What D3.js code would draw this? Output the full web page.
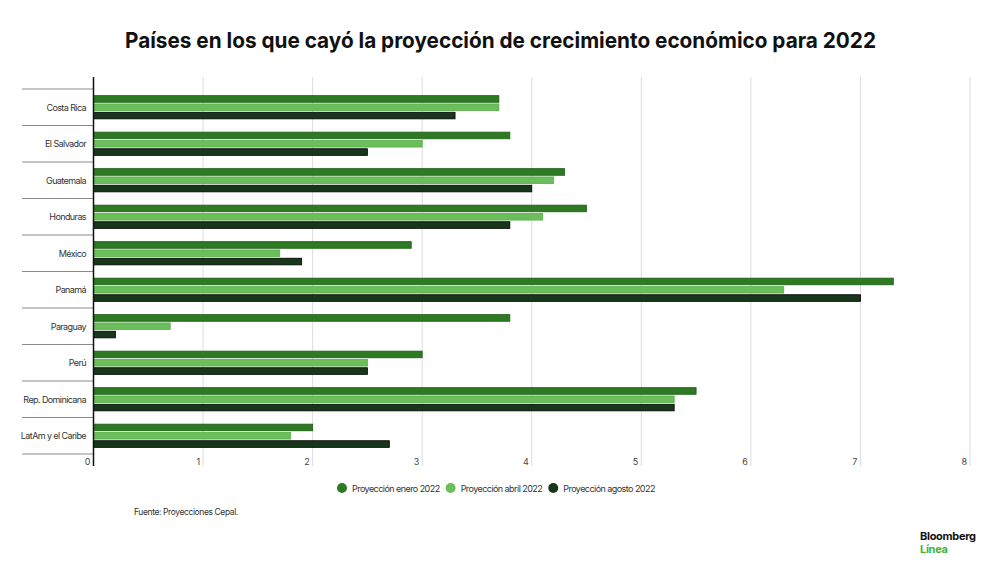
<!DOCTYPE html>
<html>
<head>
<meta charset="utf-8">
<script src="https://cdn.jsdelivr.net/npm/d3@7"></script>
<style>
    body { margin: 0; background: #fff; }
    svg { font-family: Inter, "Liberation Sans", sans-serif; }
</style>
</head>
<body>
<div id="chart-area"></div>
<script>
/*
*    Países en los que cayó la proyección de crecimiento
*/

const categories = ["Costa Rica", "El Salvador", "Guatemala", "Honduras", "México",
    "Panamá", "Paraguay", "Perú", "Rep. Dominicana", "LatAm y el Caribe"];
const seriesNames = ["Proyección enero 2022", "Proyección abril 2022", "Proyección agosto 2022"];
const enero  = [3.7, 3.8, 4.3, 4.5, 2.9, 7.3, 3.8, 3.0, 5.5, 2.0];
const abril  = [3.7, 3.0, 4.2, 4.1, 1.7, 6.3, 0.7, 2.5, 5.3, 1.8];
const agosto = [3.3, 2.5, 4.0, 3.8, 1.9, 7.0, 0.2, 2.5, 5.3, 2.7];
const xTicks = [0, 1, 2, 3, 4, 5, 6, 7, 8];

const colors = ["#2d7a22", "#6abf5a", "#17361a"];
const strokes = ["#1f5c18", "#5aad4b", "#000"];

const width = 1000;
const height = 562;

const svg = d3.select("#chart-area").append("svg")
    .attr("width", width)
    .attr("height", height);

// title
svg.append("text")
    .attr("x", 125)
    .attr("y", 48)
    .attr("textLength", 751)
    .attr("lengthAdjust", "spacingAndGlyphs")
    .attr("font-size", 22)
    .attr("font-weight", 700)
    .attr("fill", "#111")
    .text("Países en los que cayó la proyección de crecimiento económico para 2022");

const x = d3.scaleLinear()
    .domain([0, 8])
    .range([93.5, 970]);

const y0 = d3.scaleBand()
    .domain(categories)
    .range([89, 454]);

const y1 = d3.scaleBand()
    .domain(seriesNames)
    .range([0, y0.bandwidth()])
    .paddingInner(0.2)
    .paddingOuter(0.8);

// grid
svg.append("g")
    .selectAll("line")
    .data(xTicks.slice(1))
    .enter()
    .append("line")
    .attr("x1", d => x(d))
    .attr("x2", d => x(d))
    .attr("y1", 77)
    .attr("y2", 466)
    .attr("stroke", "#dcdcdc")
    .attr("stroke-width", 1);

// tick labels
svg.append("g")
    .selectAll("text")
    .data(xTicks)
    .enter()
    .append("text")
    .attr("x", d => x(d) - 3)
    .attr("y", 465)
    .attr("text-anchor", "end")
    .attr("font-size", 9)
    .attr("fill", "#444")
    .text(d => d);

// category separators
const bounds = categories.map(c => y0(c)).concat([y0.range()[1]]);
svg.append("g")
    .selectAll("line")
    .data(bounds)
    .enter()
    .append("line")
    .attr("x1", 22)
    .attr("x2", x(0))
    .attr("y1", d => d)
    .attr("y2", d => d)
    .attr("stroke", "#8a8a8a")
    .attr("stroke-width", 1);

// category labels
svg.append("g")
    .selectAll("text")
    .data(categories)
    .enter()
    .append("text")
    .attr("x", 86)
    .attr("y", d => y0(d) + y0.bandwidth() / 2 + 3.5)
    .attr("text-anchor", "end")
    .attr("font-size", 9)
    .attr("letter-spacing", -0.6)
    .attr("fill", "#333")
    .text(d => d);

// bars
const seriesValues = [enero, abril, agosto];
seriesNames.forEach((s, i) => {
    svg.append("g")
        .selectAll("rect")
        .data(categories)
        .enter()
        .append("rect")
        .attr("x", x(0))
        .attr("y", d => y0(d) + y1(s))
        .attr("width", (d, j) => x(seriesValues[i][j]) - x(0))
        .attr("height", y1.bandwidth())
        .attr("fill", colors[i])
        .attr("stroke", strokes[i])
        .attr("stroke-width", 0.8);
});

// axis line
svg.append("line")
    .attr("x1", x(0))
    .attr("x2", x(0))
    .attr("y1", 77)
    .attr("y2", 466)
    .attr("stroke", "#111")
    .attr("stroke-width", 1.5);

// legend
const legend = svg.append("g");
let lx = 342;
seriesNames.forEach((s, i) => {
    legend.append("circle")
        .attr("cx", lx)
        .attr("cy", 488)
        .attr("r", 5)
        .attr("fill", colors[i]);
    const t = legend.append("text")
        .attr("x", lx + 10)
        .attr("y", 491.5)
        .attr("font-size", 9)
        .attr("letter-spacing", -0.55)
        .attr("fill", "#333")
        .text(s);
    lx += 10 + t.node().getComputedTextLength() + 11;
});

// source
svg.append("text")
    .attr("x", 134)
    .attr("y", 515)
    .attr("font-size", 8.5)
    .attr("letter-spacing", -0.4)
    .attr("fill", "#333")
    .text("Fuente: Proyecciones Cepal.");

// logo
svg.append("text")
    .attr("x", 920)
    .attr("y", 540)
    .attr("font-size", 11)
    .attr("font-weight", 700)
    .attr("letter-spacing", -0.3)
    .attr("fill", "#111")
    .text("Bloomberg");
svg.append("text")
    .attr("x", 920)
    .attr("y", 553)
    .attr("font-size", 11)
    .attr("font-weight", 700)
    .attr("letter-spacing", -0.3)
    .attr("fill", "#3db53a")
    .text("Línea");
</script>
</body>
</html>
